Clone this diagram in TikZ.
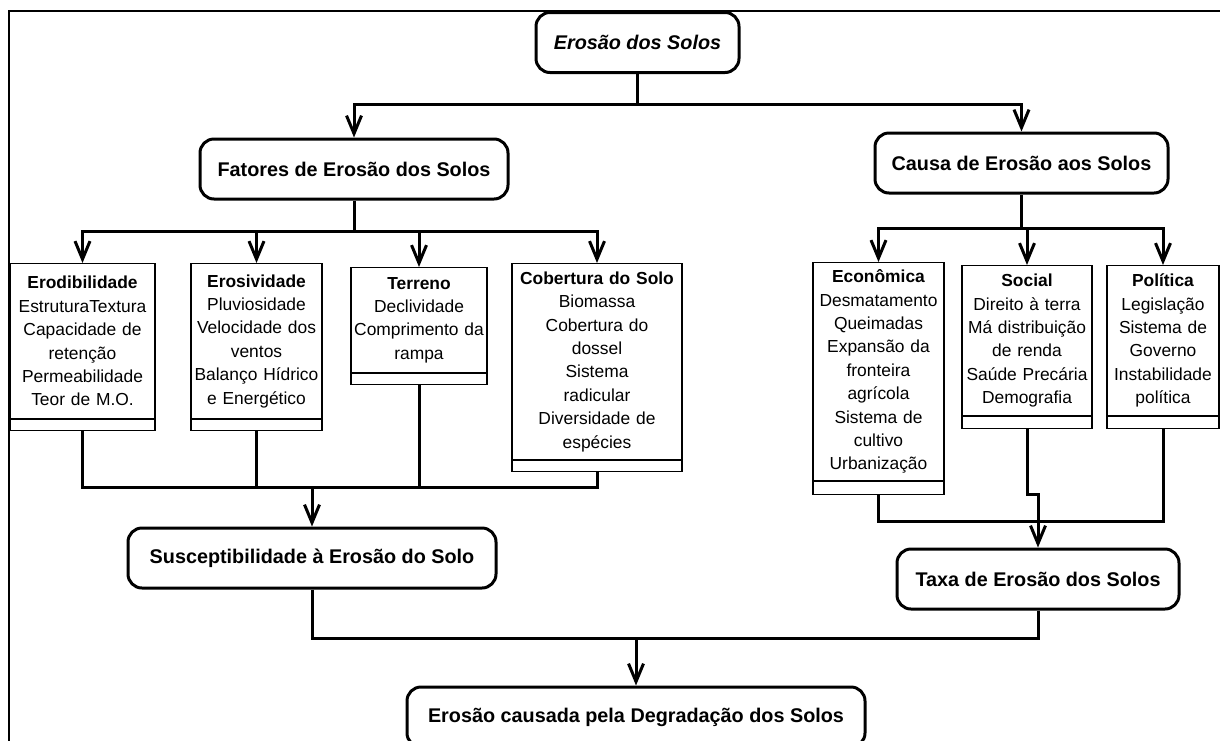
\documentclass[tikz,border=0pt]{standalone}
\usepackage{fontspec}
\setmainfont{Liberation Sans}
\usetikzlibrary{positioning,arrows.meta}

\begin{document}
\begin{tikzpicture}[
  x=0.5pt, y=-0.5pt,
  mainbox/.style={draw, line width=1.5pt, rounded corners=7pt, minimum height=30pt, inner sep=1pt, font=\bfseries\fontsize{9.9}{12}\selectfont},
  catbox/.style={draw, line width=0.6pt, anchor=north, align=center, inner xsep=0pt, inner ysep=1pt, font=\fontsize{8.7}{11.7}\selectfont},
  footbox/.style={draw, line width=0.6pt, inner sep=0pt},
  arrow/.style={-{Straight Barb[length=9pt, width=7.5pt]}, line width=1.5pt},
  link/.style={line width=1.5pt}
]
\useasboundingbox (0,0) rectangle (1220,740);
\clip (0,0) rectangle (1220,740);

% Frame
\draw[line width=0.6pt] (9,11) rectangle (1240,760);

% Main boxes
\node[mainbox, minimum width=101.5pt, font=\bfseries\itshape\fontsize{9.9}{12}\selectfont] (top) at (637.5,42.5) {Erosão dos Solos};
\node[mainbox, minimum width=154pt] (fat) at (354,169) {Fatores de Erosão dos Solos};
\node[mainbox, minimum width=146.5pt] (cau) at (1021.5,163) {Causa de Erosão aos Solos};
\node[mainbox, minimum width=184pt] (sus) at (312,558) {Susceptibilidade à Erosão do Solo};
\node[mainbox, minimum width=141pt] (tax) at (1038,579) {Taxa de Erosão dos Solos};
\node[mainbox, minimum width=229pt] (deg) at (636,717) {Erosão causada pela Degradação dos Solos};

% Factor boxes
\node[catbox, text width=72.5pt, minimum height=77.5pt] (ero) at (82.5,263)
  {\textbf{Erodibilidade}\\ EstruturaTextura\\ Capacidade de\\ retenção\\ Permeabilidade\\ Teor de M.O.};
\node[catbox, text width=65.5pt, minimum height=77.5pt] (erv) at (256.5,263)
  {\textbf{Erosividade}\\ Pluviosidade\\ Velocidade dos\\ ventos\\ Balanço Hídrico\\ e Energético};
\node[catbox, text width=68pt, minimum height=52.5pt] (ter) at (419,267)
  {\textbf{Terreno}\\ Declividade\\ Comprimento da\\ rampa};
\node[catbox, text width=85pt, minimum height=98pt] (cob) at (597,263)
  {\textbf{Cobertura do Solo}\\ Biomassa\\ Cobertura do\\ dossel\\ Sistema\\ radicular\\ Diversidade de\\ espécies};

% Cause boxes
\node[catbox, text width=65.5pt, minimum height=109pt] (eco) at (878.5,262)
  {\textbf{Econômica}\\ Desmatamento\\ Queimadas\\ Expansão da\\ fronteira\\ agrícola\\ Sistema de\\ cultivo\\ Urbanização};
\node[catbox, text width=65pt, minimum height=75pt] (soc) at (1027,265)
  {\textbf{Social}\\ Direito à terra\\ Má distribuição\\ de renda\\ Saúde Precária\\ Demografia};
\node[catbox, text width=56pt, minimum height=75pt] (pol) at (1163,265)
  {\textbf{Política}\\ Legislação\\ Sistema de\\ Governo\\ Instabilidade\\ política};

% Empty bottom compartments
\foreach \n/\w/\h in {ero/72.5pt/5.5pt, erv/65.5pt/5.5pt, ter/68pt/5.5pt, cob/85pt/5.5pt,
                      eco/65.5pt/6.5pt, soc/65pt/6pt, pol/56pt/6pt}
  \node[footbox, minimum width=\w, minimum height=\h, below=0pt of \n] (\n-f) {};

% Junctions
\coordinate (jtop) at (637.5,104);
\coordinate (jfat) at (354,231);
\coordinate (jcau) at (1021.5,228);
\coordinate (jsus) at (312,487);
\coordinate (jtax) at (1038,521);
\coordinate (jdeg) at (636,638);

% Top level
\draw[link] (top.south) -- (jtop);
\draw[arrow] (jtop) -| (fat.north);
\draw[arrow] (jtop) -| (cau.north);

% Factors
\draw[link] (fat.south) -- (jfat);
\foreach \n in {ero,erv,ter,cob}
  \draw[arrow] (jfat) -| (\n.north);
\foreach \n in {ero,erv,ter,cob}
  \draw[link] (\n-f.south) |- (jsus);
\draw[arrow] (jsus) -- (sus.north);

% Causes
\draw[link] (cau.south) -- (jcau);
\foreach \n in {eco,soc,pol}
  \draw[arrow] (jcau) -| (\n.north);
\draw[link] (eco-f.south) |- (jtax);
\draw[link] (pol-f.south) |- (jtax);
\draw[arrow] (soc-f.south) -- ++(0,65) -| (tax.north);

% Result
\draw[link] (sus.south) |- (jdeg);
\draw[link] (tax.south) |- (jdeg);
\draw[arrow] (jdeg) -- (deg.north);

\end{tikzpicture}
\end{document}
